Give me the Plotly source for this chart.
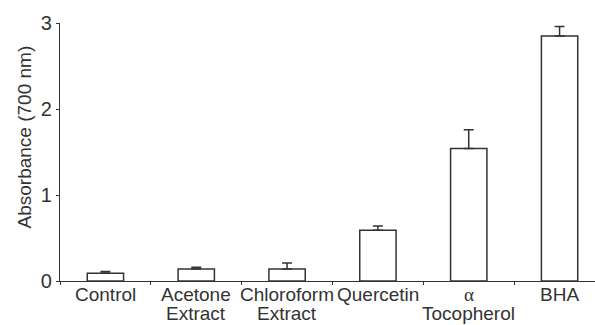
import plotly.graph_objects as go

# Reducing power of extracts and reference antioxidants
categories = ["Control", "Acetone", "Chloroform", "Quercetin", "α", "BHA"]
category_line2 = ["", "Extract", "Extract", "", "Tocopherol", ""]
absorbance = [0.09, 0.14, 0.14, 0.59, 1.54, 2.85]
sd = [0.02, 0.02, 0.07, 0.05, 0.22, 0.11]
y_ticks = [0, 1, 2, 3]

ink = "#333333"
font = "Liberation Sans, Arial, sans-serif"
serif = "Liberation Serif, Times New Roman, serif"

fig = go.Figure(
    go.Bar(
        x=categories,
        y=absorbance,
        width=0.4,
        marker=dict(color="white", line=dict(color=ink, width=1.5)),
        error_y=dict(type="data", symmetric=False, array=sd,
                     arrayminus=[0] * len(sd), color=ink,
                     thickness=1.5, width=5),
    )
)

# category names drawn as two tightly spaced lines under each bar
label_notes = []
for c, t2 in zip(categories, category_line2):
    label_notes.append(dict(
        text=c, xref="x", yref="paper", x=c, y=0,
        xanchor="center", yanchor="top", yshift=-1, showarrow=False,
        font=dict(size=19, color=ink, family=serif if c == "α" else font)))
    if t2:
        label_notes.append(dict(
            text=t2, xref="x", yref="paper", x=c, y=0,
            xanchor="center", yanchor="top", yshift=-20, showarrow=False,
            font=dict(size=19, color=ink, family=font)))

fig.update_layout(
    width=595, height=325,
    margin=dict(l=60, r=0, t=23, b=44),
    paper_bgcolor="white", plot_bgcolor="white",
    showlegend=False,
    font=dict(family=font, color=ink, size=19),
    xaxis=dict(
        type="category",
        range=[-0.5, 5.39],
        automargin=False,
        showticklabels=False,
        showline=True, linecolor=ink, linewidth=1.2,
        ticks="outside", ticklen=3, tickcolor=ink, tickwidth=1,
        tickson="boundaries",
        showgrid=False, zeroline=False,
    ),
    yaxis=dict(
        range=[0, 3],
        automargin=False,
        tickvals=y_ticks,
        showline=True, linecolor=ink, linewidth=1.2,
        ticks="outside", ticklen=3, tickcolor=ink, tickwidth=1,
        tickfont=dict(size=20, color=ink),
        showgrid=False, zeroline=False,
    ),
    annotations=[dict(
        text="Absorbance (700 nm)",
        xref="paper", yref="paper",
        x=-60 / 535, xanchor="left", xshift=11,
        y=(325 - 44 - 137) / 258, yanchor="middle",
        textangle=-90, showarrow=False,
        font=dict(size=19, color=ink, family=font),
    )] + label_notes,
)

fig.write_html("out.html")
